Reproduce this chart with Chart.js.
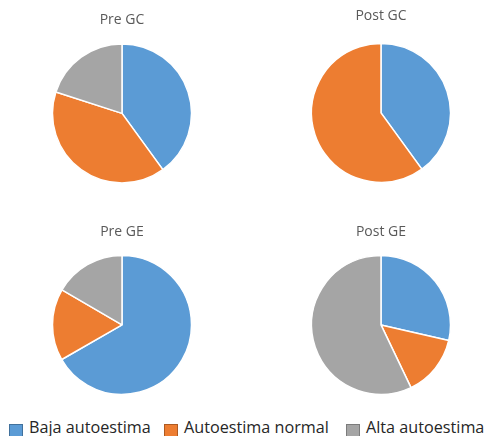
<!DOCTYPE html>
<html lang="es">
<head>
<meta charset="utf-8">
<title>Autoestima pre y post</title>
<script src="https://cdn.jsdelivr.net/npm/chart.js@4.4.1/dist/chart.umd.min.js"></script>
<style>
  html, body { margin: 0; padding: 0; background: #ffffff; }
  body { width: 487px; height: 436px; position: relative; overflow: hidden;
         font-family: "Open Sans", "Noto Sans", sans-serif; }
  .pie { position: absolute; }
  .legend-item { position: absolute; top: 419px; height: 16px; line-height: 16px;
                 font-size: 16.2px; color: #262626; white-space: nowrap; }
  .legend-item .box { position: absolute; left: 0; top: 5px; width: 14px; height: 14px;
                      box-sizing: border-box; }
  .legend-item .txt { position: absolute; left: 20px; top: 0; }
</style>
</head>
<body>
<canvas id="preGC" class="pie"></canvas>
<canvas id="postGC" class="pie"></canvas>
<canvas id="preGE" class="pie"></canvas>
<canvas id="postGE" class="pie"></canvas>
<div id="legend"></div>
<script>
// Categories and colours
const categories = ["Baja autoestima", "Autoestima normal", "Alta autoestima"];
const colors = ["#5B9BD5", "#ED7D31", "#A5A5A5"];
const edgeColors = ["#41719C", "#AE5A21", "#7C7C7C"];

// Percentages for each group (Baja, Normal, Alta)
const preGC  = [40, 40, 20];
const postGC = [40, 60, 0];
const preGE  = [66.7, 16.7, 16.6];
const postGE = [28.6, 14.3, 57.1];

// Chart titles
const titles = ["Pre GC", "Post GC", "Pre GE", "Post GE"];

function makePie(id, title, values, box, titlePadTop) {
  const cv = document.getElementById(id);
  cv.style.left = box.left + "px";
  cv.style.top = box.top + "px";
  cv.width = box.width;
  cv.height = box.height;
  cv.style.width = box.width + "px";
  cv.style.height = box.height + "px";
  return new Chart(cv, {
    type: "pie",
    data: {
      labels: categories,
      datasets: [{
        data: values,
        backgroundColor: colors,
        borderColor: "#ffffff",
        borderWidth: 1.5
      }]
    },
    options: {
      responsive: false,
      animation: false,
      radius: 69.5,
      plugins: {
        legend: { display: false },
        tooltip: { enabled: false },
        title: {
          display: true,
          text: title,
          color: "#595959",
          font: { family: "'Open Sans', sans-serif", size: 14, weight: "normal", lineHeight: 1.2 },
          padding: { top: titlePadTop, bottom: 4 }
        }
      }
    }
  });
}

makePie("preGC",  titles[0], preGC,  { left: 22,  top: 0,   width: 200, height: 194 }, 12);
makePie("postGC", titles[1], postGC, { left: 281, top: 0,   width: 200, height: 197 }, 8);
makePie("preGE",  titles[2], preGE,  { left: 22,  top: 210, width: 200, height: 195 }, 14);
makePie("postGE", titles[3], postGE, { left: 281, top: 210, width: 200, height: 195 }, 14);

// Shared legend along the bottom
const legendLeft = [9, 164, 346];
const legend = document.getElementById("legend");
categories.forEach((name, i) => {
  const item = document.createElement("div");
  item.className = "legend-item";
  item.style.left = legendLeft[i] + "px";
  const sw = document.createElement("span");
  sw.className = "box";
  sw.style.background = colors[i];
  sw.style.border = "1px solid " + edgeColors[i];
  const tx = document.createElement("span");
  tx.className = "txt";
  tx.textContent = name;
  item.appendChild(sw);
  item.appendChild(tx);
  legend.appendChild(item);
});
</script>
</body>
</html>
